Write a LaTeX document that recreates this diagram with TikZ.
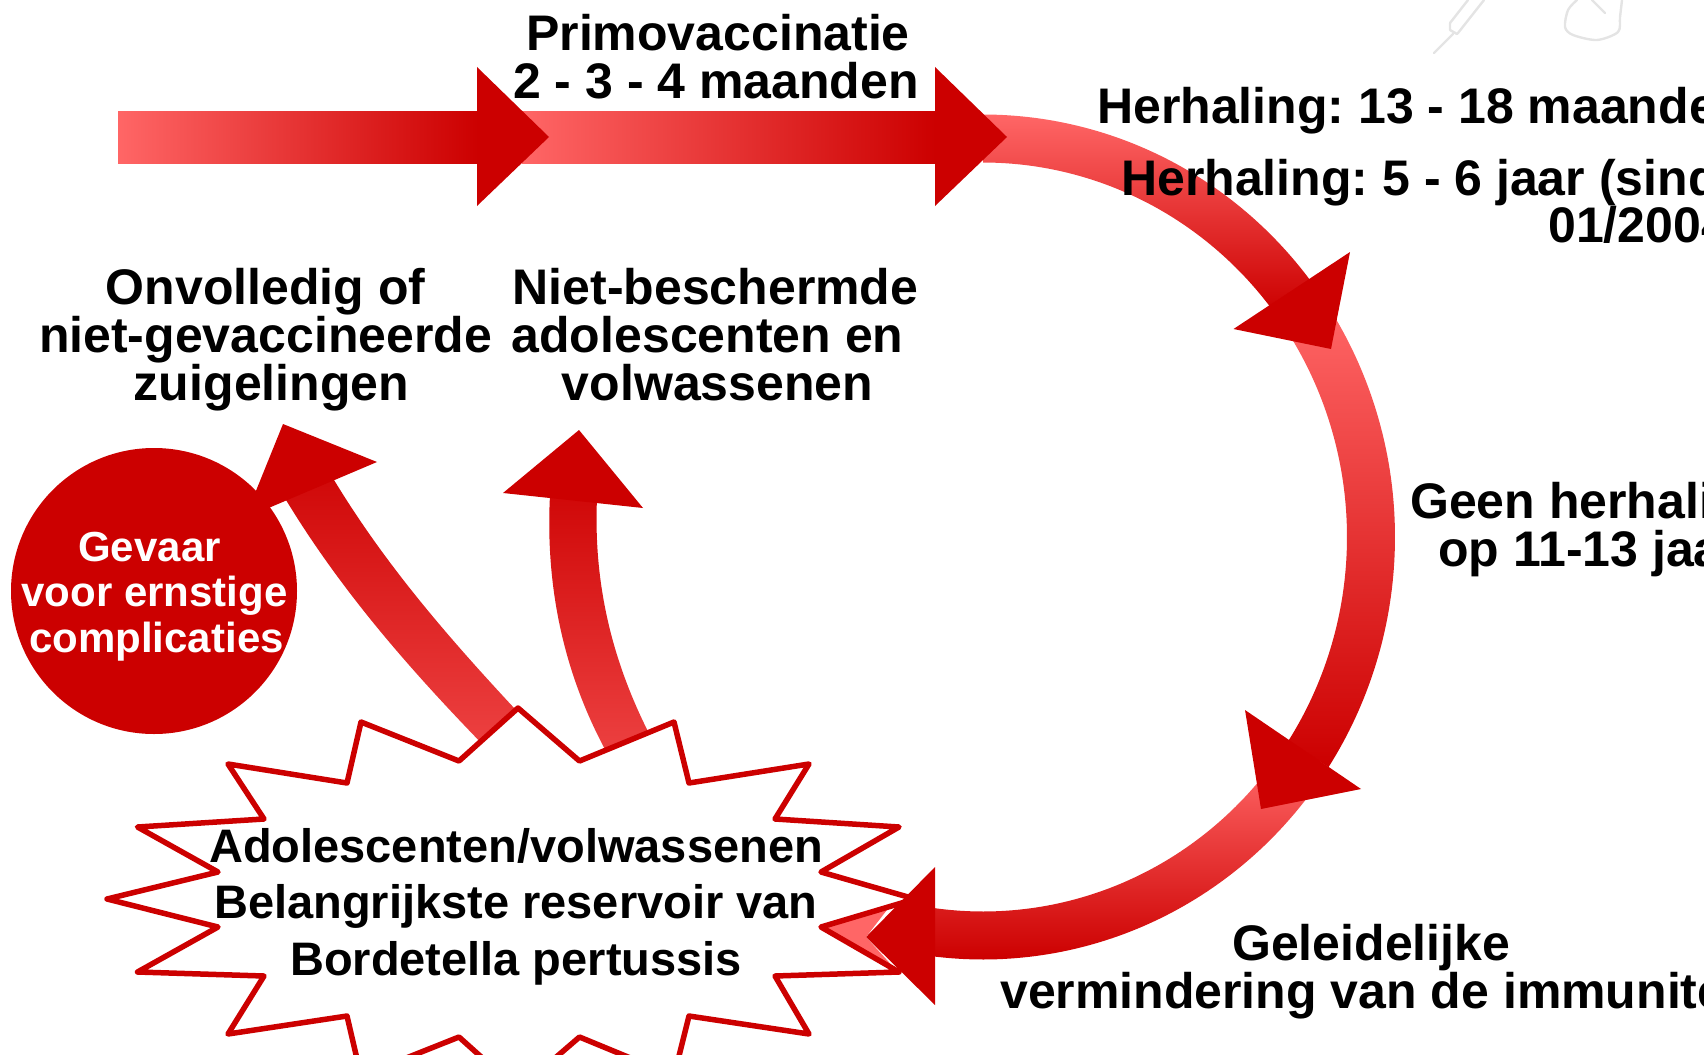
\documentclass[tikz,border=0pt]{standalone}
\usepackage{fontspec}
\setmainfont{Liberation Sans}
\definecolor{deepred}{HTML}{CC0000}
\definecolor{lightred}{HTML}{FF6666}
\definecolor{sketchgrey}{HTML}{E4E4E4}
\newcommand{\shr}[1]{\mbox{}\kern#1pt\relax}
\newcommand{\shl}[1]{\kern#1pt\mbox{}}
\newcommand{\cx}{983}\newcommand{\cy}{537}
\tikzset{
  headfill/.style={fill=deepred,draw=none},
  tailv/.style={top color=lightred,bottom color=deepred,draw=none},
  tailh/.style={left color=lightred,right color=deepred,draw=none},
  tailup/.style={top color=deepred!92!lightred,bottom color=deepred!35!lightred,draw=none},
  blacklabel/.style={inner sep=0pt,text=black,font=\fontsize{50}{48}\selectfont\bfseries\frenchspacing},
  burstline/.style={draw=deepred,line width=5.5pt,line join=round,fill=white},
  sketchline/.style={draw=sketchgrey,line width=2.4pt,line cap=round,line join=round},
}
\begin{document}
\begin{tikzpicture}[x=1pt,y=-1pt]
\useasboundingbox (0,0) rectangle (1704,1054);
% faint sketch
\draw[sketchline] (1434,53) -- (1453,34);
\draw[sketchline] (1450,23) -- (1468,0);
\draw[sketchline] (1458,33) -- (1484,0);
\draw[sketchline] (1450,23) -- (1450,30) -- (1457,34) -- (1458,33);
\draw[sketchline] plot[smooth] coordinates {(1577,0) (1568,10) (1565,27) (1573,35) (1597,40) (1618,32) (1620,17) (1622,0)};
\draw[sketchline] (1592,0) -- (1605,13);
% straight arrows
\shade[tailh] (118,111.5) rectangle (478,163.5);
\shade[tailh] (522,111.5) rectangle (936,163.5);
% ring segments
\shade[tailv] plot[domain=-90:-37,samples=60] ({\cx+412*cos(\x)},{\cy+422.5*sin(\x)}) -- plot[domain=-37:-90,samples=60] ({\cx+364*cos(\x)},{\cy+374.5*sin(\x)}) -- cycle;
\shade[tailv] plot[domain=-33:33,samples=70] ({\cx+412*cos(\x)},{\cy+422.5*sin(\x)}) -- plot[domain=33:-33,samples=70] ({\cx+364*cos(\x)},{\cy+374.5*sin(\x)}) -- cycle;
\shade[tailv] plot[domain=37:100,samples=70] ({\cx+412*cos(\x)},{\cy+422.5*sin(\x)}) -- plot[domain=100:37,samples=70] ({\cx+364*cos(\x)},{\cy+374.5*sin(\x)}) -- cycle;
% left curved arrows
\shade[tailup] (283,495) .. controls (340,590) and (410,670) .. (490,752) -- (530,725) .. controls (450,640) and (385,565) .. (331,475) -- cycle;
\shade[tailup] (550,495) .. controls (545,590) and (565,680) .. (612,762) -- (655,745) .. controls (615,670) and (593,590) .. (597,498) -- cycle;
% pink patch behind the burst
\fill[lightred] (825,927) -- (890,906) -- (866,937) -- (896,970) -- cycle;
% burst
\draw[burstline] (518,708) -- (579.5,761) -- (674,722) -- (689,783) -- (809,764) -- (775,819) -- (899,827) -- (821,872) -- (915,899) -- (821,927) -- (899,972) -- (775,976) -- (809,1034) -- (689,1016) -- (674,1076) -- (579.5,1037) -- (518,1090) -- (459,1037) -- (361,1076) -- (347,1016) -- (228,1034) -- (264,976) -- (137.5,972) -- (218,927) -- (107,899) -- (218,872) -- (137.5,827) -- (264,819) -- (228,764) -- (347,783) -- (361,722) -- (459,761) -- cycle;
% circle
\node[circle,fill=deepred,minimum size=286pt,inner sep=0pt] (risk) at (154,591) {};
% heads
\fill[headfill] (477,67) -- (549,137) -- (477,206) -- cycle;
\fill[headfill] (935,67) -- (1007,137) -- (935,206) -- cycle;
\fill[headfill] (1350,252) -- (1331,349) -- (1233.5,329) -- cycle;
\fill[headfill] (1245,710) -- (1261,809) -- (1361,789) -- cycle;
\fill[headfill] (935,867) -- (866,937) -- (935,1005) -- cycle;
\fill[headfill] (283,424) -- (377,462) -- (245,518) -- cycle;
\fill[headfill] (579,430) -- (503,493) -- (643,508) -- cycle;
% labels
\node[blacklabel,align=center,anchor=base] (prim) at (716,98.5) {\shr{4}Primovaccinatie\\2 - 3 - 4 maanden};
\node[blacklabel,align=center,anchor=base] (onv) at (265.5,400) {Onvolledig of\\niet-gevaccineerde\\\shr{12}zuigelingen};
\node[blacklabel,align=center,anchor=base] (niet) at (712.5,400) {\shr{6}Niet-beschermde\\adolescenten en\shl{10}\\\shr{10}volwassenen};
\node[blacklabel,anchor=base west] (h1) at (1097,124) {Herhaling: 13 - 18 maanden};
\node[blacklabel,align=left,anchor=base west,font=\fontsize{50}{47}\selectfont\bfseries\frenchspacing] (h2) at (1121,242) {Herhaling: 5 - 6 jaar (sinds\\\shr{427}01/2004)};
\node[blacklabel,align=left,anchor=base west] (geen) at (1410,566) {Geen herhaling\\\shr{28}op 11-13 jaar};
\node[blacklabel,align=left,anchor=base west,font=\fontsize{50}{45.5}\selectfont\bfseries\frenchspacing] (ger) at (1000,1008) {\shr{232}Geleidelijke\\vermindering van de immuniteit};
\node[inner sep=0pt,align=center,anchor=base,font=\fontsize{47}{56.5}\selectfont\bfseries\frenchspacing] (res) at (516,975) {Adolescenten/volwassenen\\Belangrijkste reservoir van\\Bordetella pertussis};
\node[inner sep=0pt,align=center,anchor=base,text=white,font=\fontsize{42}{45.5}\selectfont\bfseries\frenchspacing] (gev) at (154.5,652) {Gevaar\shl{10}\\voor ernstige\\\shr{4}complicaties};
\end{tikzpicture}
\end{document}
